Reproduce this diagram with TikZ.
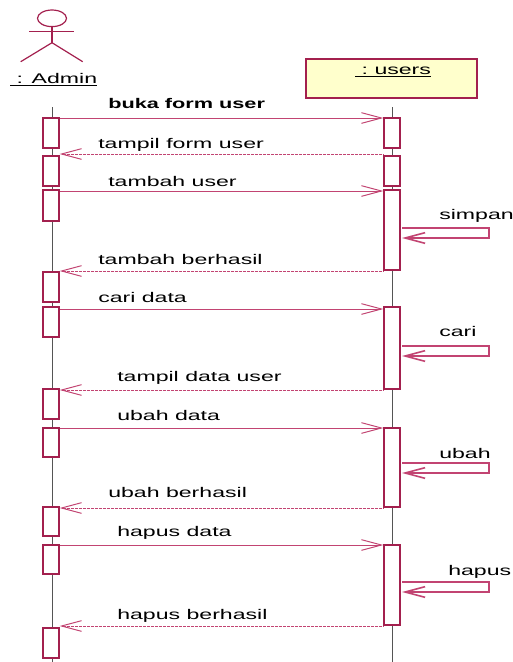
\documentclass[tikz,border=0pt]{standalone}
\usepackage{fontspec}
\setmainfont{Liberation Sans}
\newfontfamily\lab[FakeStretch=1.65]{Liberation Sans}
\newfontfamily\labb[FakeStretch=1.55]{Liberation Sans}
\usetikzlibrary{arrows.meta,fit}
\definecolor{boxc}{HTML}{A3204E}
\definecolor{msgc}{HTML}{C24472}
\definecolor{lifec}{HTML}{555555}
\definecolor{headfill}{HTML}{FFFFCC}
\tikzset{
  act/.style={draw=boxc, fill=white, line width=0.9pt, inner sep=0pt},
  msg/.style={draw=msgc, line width=0.75pt, -{Straight Barb[length=15pt,width=8pt]}},
  ret/.style={msg, dash pattern=on 0.6pt off 0.4pt},
  selfmsg/.style={msg, line width=1.2pt},
  lbl/.style={font=\lab\fontsize{10.5pt}{12pt}\selectfont, anchor=base west, inner sep=0pt},
  lblb/.style={font=\labb\bfseries\fontsize{10.5pt}{12pt}\selectfont, anchor=base west, inner sep=0pt},
  life/.style={draw=lifec, line width=0.75pt},
  actor/.style={draw=boxc, line width=0.9pt}
}
\begin{document}
\begin{tikzpicture}[x=0.75pt,y=-0.75pt]
\useasboundingbox (0,0) rectangle (512,662);
% actor
\draw[actor] (52,18.3) ellipse [x radius=14.5, y radius=8.3];
\draw[actor] (52,26.6) -- (52,42.7);
\draw[actor] (29.3,31.7) -- (74,31.7);
\draw[actor] (52,42.7) -- (20.7,61.7);
\draw[actor] (52,42.7) -- (82.7,61.7);
\node[lbl] (admin) at (10,83) {\underline{\ : Admin}};
% users header
\node[draw=boxc, fill=headfill, line width=0.9pt, fit={(306,59)(477,98)}, inner sep=0pt] (usersbox) {};
\node[lbl] (users) at (355,74.5) {\underline{\ :\ users}};
% lifelines
\coordinate (alt) at (52,107);
\coordinate (alb) at (52,662);
\coordinate (ult) at (392,107);
\coordinate (ulb) at (392,662);
\draw[life] (alt) -- (alb);
\draw[life] (ult) -- (ulb);
% admin activations
\node[act, fit={(43,118)(59,148)}] (aa1) {};
\node[act, fit={(43,156)(59,186)}] (aa2) {};
\node[act, fit={(43,190)(59,221)}] (aa3) {};
\node[act, fit={(43,272)(59,302)}] (aa4) {};
\node[act, fit={(43,307)(59,337)}] (aa5) {};
\node[act, fit={(43,389)(59,419)}] (aa6) {};
\node[act, fit={(43,428)(59,457)}] (aa7) {};
\node[act, fit={(43,507)(59,536)}] (aa8) {};
\node[act, fit={(43,545)(59,574)}] (aa9) {};
\node[act, fit={(43,628)(59,658)}] (aa10) {};
% users activations
\node[act, fit={(384,118)(400,148)}] (uu1) {};
\node[act, fit={(384,156)(400,186)}] (uu2) {};
\node[act, fit={(384,190)(400,270)}] (uu3) {};
\node[act, fit={(384,307)(400,389)}] (uu4) {};
\node[act, fit={(384,428)(400,507)}] (uu5) {};
\node[act, fit={(384,545)(400,625)}] (uu6) {};
% y levels
\coordinate (y1) at (0,118);
\coordinate (y2) at (0,154);
\coordinate (y3) at (0,191);
\coordinate (y4) at (0,271);
\coordinate (y5) at (0,309);
\coordinate (y6) at (0,390);
\coordinate (y7) at (0,428);
\coordinate (y8) at (0,508);
\coordinate (y9) at (0,545);
\coordinate (y10) at (0,626);
% calls
\draw[msg] (aa1.east |- y1) -- (uu1.west |- y1);
\draw[msg] (aa3.east |- y3) -- (uu3.west |- y3);
\draw[msg] (aa5.east |- y5) -- (uu4.west |- y5);
\draw[msg] (aa7.east |- y7) -- (uu5.west |- y7);
\draw[msg] (aa9.east |- y9) -- (uu6.west |- y9);
% returns
\draw[ret] (uu1.west |- y2) -- (aa2.east |- y2);
\draw[ret] (uu3.west |- y4) -- (aa4.east |- y4);
\draw[ret] (uu4.west |- y6) -- (aa6.east |- y6);
\draw[ret] (uu5.west |- y8) -- (aa8.east |- y8);
\draw[ret] (uu6.west |- y10) -- (aa10.east |- y10);
% self messages
\coordinate (s1a) at (402,228); \coordinate (s1b) at (489,228); \coordinate (s1c) at (489,238); \coordinate (s1d) at (402,238);
\draw[selfmsg] (s1a) -- (s1b) -- (s1c) -- (s1d);
\coordinate (s2a) at (402,346); \coordinate (s2b) at (489,346); \coordinate (s2c) at (489,356); \coordinate (s2d) at (402,356);
\draw[selfmsg] (s2a) -- (s2b) -- (s2c) -- (s2d);
\coordinate (s3a) at (402,463); \coordinate (s3b) at (489,463); \coordinate (s3c) at (489,473); \coordinate (s3d) at (402,473);
\draw[selfmsg] (s3a) -- (s3b) -- (s3c) -- (s3d);
\coordinate (s4a) at (402,582); \coordinate (s4b) at (489,582); \coordinate (s4c) at (489,592); \coordinate (s4d) at (402,592);
\draw[selfmsg] (s4a) -- (s4b) -- (s4c) -- (s4d);
% labels
\node[lblb] (l1) at (108,108) {buka form user};
\node[lbl] (l2) at (98,148) {tampil form user};
\node[lbl] (l3) at (108,186) {tambah user};
\node[lbl] (l4) at (439,219) {simpan};
\node[lbl] (l5) at (98,264) {tambah berhasil};
\node[lbl] (l6) at (98,302) {cari data};
\node[lbl] (l7) at (439,336) {cari};
\node[lbl] (l8) at (117,381) {tampil data user};
\node[lbl] (l9) at (117,420) {ubah data};
\node[lbl] (l10) at (439,458) {ubah};
\node[lbl] (l11) at (108,497) {ubah berhasil};
\node[lbl] (l12) at (117,536) {hapus data};
\node[lbl] (l13) at (448,575) {hapus};
\node[lbl] (l14) at (117,619) {hapus berhasil};
\end{tikzpicture}
\end{document}
